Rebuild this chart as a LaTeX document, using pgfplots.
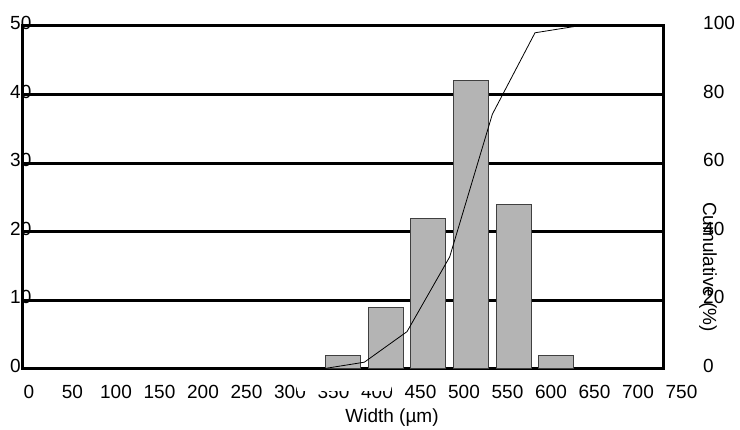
\documentclass[border=0pt]{standalone}
\usepackage{pgfplots}
\pgfplotsset{compat=1.18}
\usepackage{fontspec}
\setmainfont{Liberation Sans}
\newcommand{\lf}{\fontsize{19}{22}\selectfont}
\begin{document}
\lf
\begin{tikzpicture}[x=1pt,y=1pt]
\useasboundingbox (0,0) rectangle (740,430);
% main axis: frequency bars
\begin{axis}[
  at={(23pt,61pt)}, anchor=south west,
  scale only axis, width=640pt, height=343pt,
  xmin=0, xmax=15, ymin=0, ymax=50,
  xtick=\empty,
  ytick={0,10,...,50},
  ymajorgrids, grid style={black, line width=3pt},
  axis line style={black, line width=3pt},
  major tick length=0pt,
  /pgf/number format/assume math mode=true,
  yticklabel style={anchor=west, inner sep=0pt, xshift=-13pt, yshift=3pt, font=\lf},
  ybar, bar width=0.82,
]
\addplot[fill={rgb,255:red,180;green,180;blue,180}, draw={rgb,255:red,64;green,64;blue,64}, line width=1pt]
  coordinates {(7.5,2) (8.5,9) (9.5,22) (10.5,42) (11.5,24) (12.5,2)};
\end{axis}
% secondary axis: cumulative %
\begin{axis}[
  at={(23pt,61pt)}, anchor=south west,
  scale only axis, width=640pt, height=343pt,
  xmin=0, xmax=15, ymin=0, ymax=100,
  axis y line*=right, axis x line=none,
  axis line style={draw=none},
  xtick=\empty,
  ytick={0,20,...,100},
  major tick length=0pt,
  /pgf/number format/assume math mode=true,
  yticklabel style={anchor=west, inner sep=0pt, xshift=40pt, yshift=3pt, font=\lf},
]
\addplot[black, line width=0.8pt, mark=none]
  coordinates {(0,0) (7,0) (8,1.98) (9,10.89) (10,32.67) (11,74.26) (12,98.02) (13,100) (14,100)};
\end{axis}
% helper axis for the x tick labels
\begin{axis}[
  at={(10pt,61pt)}, anchor=south west,
  scale only axis, width=690pt, height=10pt,
  xmin=-21.84, xmax=771.26, ymin=0, ymax=1,
  axis line style={draw=none},
  ytick=\empty,
  xtick={0,50,...,750},
  major tick length=0pt,
  /pgf/number format/assume math mode=true,
  xticklabel style={anchor=center, inner sep=0pt, yshift=-23pt, font=\lf},
]
\end{axis}
\fill[white] (297,39) rectangle (391,48);
\node[font=\lf, inner sep=0pt] at (392,12) {Width (µm)};
\node[font=\lf, inner sep=0pt, rotate=-90] at (708,163) {Cumulative (\%)};
\end{tikzpicture}
\end{document}
